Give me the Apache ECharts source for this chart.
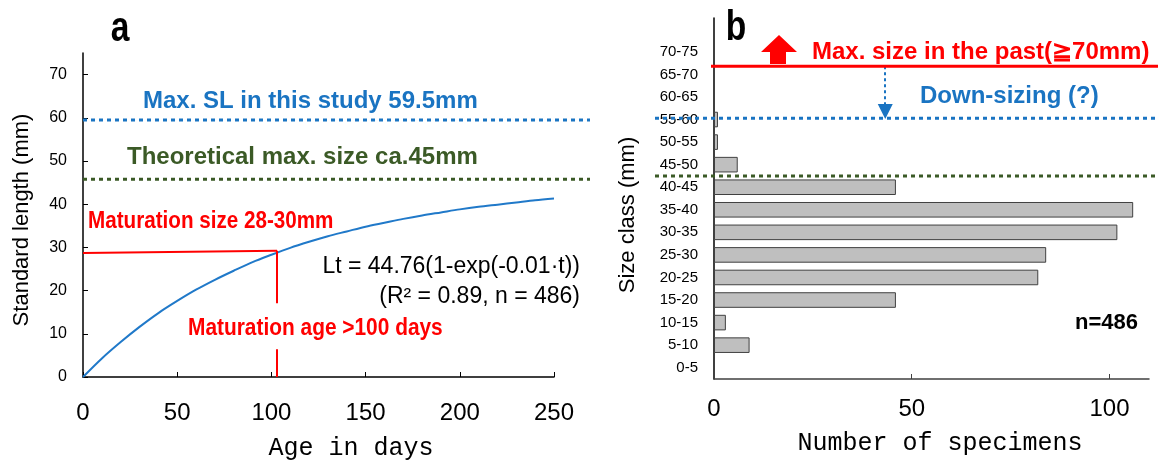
<!DOCTYPE html>
<html>
<head>
<meta charset="utf-8">
<script src="https://cdn.jsdelivr.net/npm/echarts@6.0.0/dist/echarts.min.js"></script>
<style>
html, body {margin: 0; padding: 0; background: #fff;}
#chart {width: 1158px; height: 460px;}
</style>
</head>
<body>
<div id="chart"></div>
<script>
// panel a : growth curve
var ages = [0, 10, 20, 30, 40, 50, 60, 70, 80, 90, 100, 110, 120, 130, 140, 150, 160, 170, 180, 190,
    200, 210, 220, 230, 240, 250];
var lengths = [0, 4.3, 8.1, 11.6, 14.8, 17.6, 20.2, 22.5, 24.6, 26.6, 28.3, 29.9, 31.3, 32.6, 33.7, 34.8,
    35.7, 36.6, 37.4, 38.1, 38.8, 39.4, 39.9, 40.4, 40.9, 41.3];
var ageTicks = [0, 50, 100, 150, 200, 250];
var lengthTicks = [0, 10, 20, 30, 40, 50, 60, 70];
var maxSL = 59.5;            // blue dotted line
var theoMax = 45.8;          // green dotted line
var matAge = 103;            // maturation age (red vertical)
var matSize = [28.7, 29.2];  // red horizontal, left end / at curve
var matGap = [17.1, 6.4];    // red vertical is broken around its label

// panel b : size class histogram
var sizeClasses = ['0-5', '5-10', '10-15', '15-20', '20-25', '25-30', '30-35', '35-40',
    '40-45', '45-50', '50-55', '55-60', '60-65', '65-70', '70-75', ''];
var counts = [0, 9, 3, 46, 82, 84, 102, 106, 46, 6, 1, 1, 0, 0, 0];
var countTicks = [0, 50, 100];
var pastMax = 69.3;    // red line, mm
var studyMax = 57.8;   // blue dotted, mm
var theoMaxB = 45;     // green dotted, mm
var arrowX = 43.3;     // down-sizing arrow position (count axis)
var arrowEnd = 59.3;

var BLUE = '#1a74c2', GREEN = '#3b5a26', RED = '#ff0000';
var SANS = '"Liberation Sans", Arial, sans-serif';
var MONO = '"Liberation Mono", "DejaVu Sans Mono", monospace';

var curve = ages.map(function (a, i) { return [a, lengths[i]]; });
var bars = counts.map(function (v) { return v === 0 ? '-' : v; });

var chart = echarts.init(document.getElementById('chart'));
var option = {
    animation: false,
    backgroundColor: '#fff',
    grid: [
        {left: 83, top: 53, width: 471, height: 324},
        {left: 714, top: 18, width: 435, height: 361}
    ],
    xAxis: [
        {
            type: 'value', gridIndex: 0, min: 0, max: 250, interval: 50,
            splitLine: {show: false},
            axisLine: {lineStyle: {color: '#000', width: 1.5}},
            axisTick: {inside: true, length: 5, customValues: ageTicks, lineStyle: {color: '#000'}},
            axisLabel: {customValues: ageTicks, margin: 24, color: '#000', fontFamily: SANS, fontSize: 24}
        },
        {
            type: 'value', gridIndex: 1, min: 0, max: 110, interval: 50,
            splitLine: {show: false},
            axisLine: {lineStyle: {color: '#404040', width: 1.5}},
            axisTick: {inside: true, length: 5, customValues: countTicks, lineStyle: {color: '#404040'}},
            axisLabel: {customValues: countTicks, margin: 18, color: '#000', fontFamily: SANS, fontSize: 24}
        }
    ],
    yAxis: [
        {
            type: 'value', gridIndex: 0, min: 0, max: 75, interval: 10,
            splitLine: {show: false},
            axisLine: {show: true, lineStyle: {color: '#000', width: 1.5}},
            axisTick: {show: true, inside: true, length: 5, customValues: lengthTicks, lineStyle: {color: '#000'}},
            axisLabel: {customValues: lengthTicks, margin: 16, color: '#000', fontFamily: SANS, fontSize: 16}
        },
        {
            type: 'category', gridIndex: 1, data: sizeClasses,
            axisLine: {lineStyle: {color: '#000', width: 1.5}},
            axisTick: {show: false},
            axisLabel: {margin: 16, color: '#000', fontFamily: SANS, fontSize: 15, interval: 0}
        },
        {
            // hidden mm scale for the reference lines of panel b
            type: 'value', gridIndex: 1, min: 0, max: 80, show: false,
            splitLine: {show: false}
        }
    ],
    series: [
        {
            type: 'line', xAxisIndex: 0, yAxisIndex: 0,
            data: curve, smooth: 0.3, showSymbol: false,
            lineStyle: {color: '#2079c9', width: 2},
            markLine: {
                silent: true, symbol: 'none', label: {show: false},
                lineStyle: {color: RED, width: 2, type: 'solid'},
                data: [
                    [{coord: [0, matSize[0]]}, {coord: [matAge, matSize[1]]}],
                    [{coord: [matAge, matSize[1]]}, {coord: [matAge, matGap[0]]}],
                    [{coord: [matAge, matGap[1]]}, {coord: [matAge, 0]}]
                ]
            }
        },
        {
            type: 'bar', xAxisIndex: 1, yAxisIndex: 1,
            data: bars, barCategoryGap: '31%',
            itemStyle: {color: '#bfbfbf', borderColor: '#404040', borderWidth: 1}
        },
        {
            type: 'line', xAxisIndex: 1, yAxisIndex: 2, data: [],
            markLine: {
                silent: true, symbol: ['none', 'triangle'], symbolSize: 15,
                label: {show: false},
                lineStyle: {color: BLUE, width: 2, type: [3, 3]},
                data: [[{coord: [arrowX, pastMax]}, {coord: [arrowX, arrowEnd]}]]
            }
        }
    ]
};
chart.setOption(option);

// reference lines run past the plot areas, so place them from the axes
function yPix(axis, v) { return chart.convertToPixel({yAxisIndex: axis}, v); }
function hline(x1, x2, y, color, dotted) {
    return {
        type: 'line', z: 50, silent: true,
        shape: {x1: x1, y1: y, x2: x2, y2: y},
        style: {stroke: color, lineWidth: 3, lineDash: dotted ? [4, 4] : null}
    };
}
function txt(s, x, y, font, color, align, rot, sx) {
    return {
        type: 'text', z: 60, silent: true, x: x, y: y, rotation: rot || 0, scaleX: sx || 1,
        style: {text: s, font: font, fill: color, align: align || 'left', verticalAlign: 'middle'}
    };
}

var graphics = [
    hline(83, 590, yPix(0, maxSL), BLUE, true),
    hline(83, 590, yPix(0, theoMax), GREEN, true),
    hline(655, 1158, yPix(2, studyMax), BLUE, true),
    hline(655, 1158, yPix(2, theoMaxB), GREEN, true),
    hline(711, 1158, yPix(2, pastMax), RED, false),
    {
        type: 'polygon', z: 55, silent: true,
        shape: {points: [[761, 52], [779, 35], [797, 52], [786, 52], [786, 64], [770, 64], [770, 52]]},
        style: {fill: RED}
    },
    txt('a', 120, 29, 'bold 42px ' + SANS, '#000', 'center', 0, 0.8),
    txt('b', 736, 28, 'bold 42px ' + SANS, '#000', 'center', 0, 0.8),
    txt('Max. SL in this study 59.5mm', 143, 101, 'bold 24px ' + SANS, BLUE),
    txt('Theoretical max. size ca.45mm', 127, 157, 'bold 24px ' + SANS, GREEN),
    txt('Maturation size 28-30mm', 88, 221, 'bold 24px ' + SANS, RED, 'left', 0, 0.86),
    txt('Lt = 44.76(1-exp(-0.01\u00b7t))', 580, 267, '23px ' + SANS, '#000', 'right'),
    txt('(R\u00b2 = 0.89, n = 486)', 580, 297, '23px ' + SANS, '#000', 'right'),
    txt('Maturation age >100 days', 188, 328, 'bold 24px ' + SANS, RED, 'left', 0, 0.87),
    txt('Age in days', 351, 448, '25px ' + MONO, '#000', 'center'),
    txt('Standard length (mm)', 22, 220, '22px ' + SANS, '#000', 'center', Math.PI / 2),
    txt('Max. size in the past(\u226770mm)', 812, 52, 'bold 24px ' + SANS, RED),
    txt('Down-sizing (?)', 920, 96, 'bold 24px ' + SANS, BLUE),
    txt('n=486', 1075, 323, 'bold 22px ' + SANS, '#000'),
    txt('Number of specimens', 940, 443, '25px ' + MONO, '#000', 'center'),
    txt('Size class (mm)', 628, 215, '22px ' + SANS, '#000', 'center', Math.PI / 2)
];
chart.setOption({graphic: graphics});
</script>
</body>
</html>
